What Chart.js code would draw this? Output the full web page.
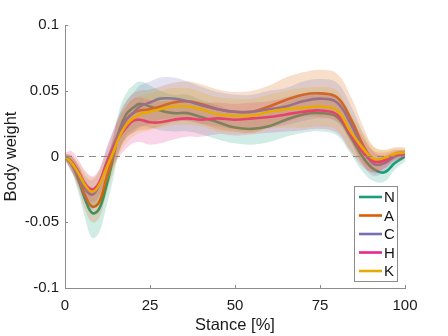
<!DOCTYPE html>
<html>
<head>
<meta charset="utf-8">
<script src="https://cdn.jsdelivr.net/npm/chart.js@4.4.0/dist/chart.umd.min.js"></script>
<style>
  html, body { margin: 0; padding: 0; background: #fff; }
  #wrap { width: 448px; height: 336px; }
</style>
</head>
<body>
<div id="wrap"><canvas id="chart" width="448" height="336"></canvas></div>
<script>
// stance samples [%]
const stance = [0, 2, 4, 6, 8, 10, 12, 14, 16, 18, 20, 22, 25, 28, 32, 36, 40, 45, 50, 55, 60, 65, 70, 75, 80, 84, 88, 91, 94, 97, 100];

// mean curves (body weight)
const meanN = [0, -0.006, -0.018, -0.033, -0.043, -0.040, -0.024, -0.003, 0.020, 0.032, 0.037, 0.040, 0.038, 0.035, 0.033, 0.033, 0.030, 0.026, 0.022, 0.021, 0.023, 0.028, 0.032, 0.033, 0.030, 0.015, -0.002, -0.010, -0.012, -0.005, 0.000];
const meanA = [0, -0.005, -0.016, -0.030, -0.038, -0.035, -0.018, 0.000, 0.018, 0.028, 0.033, 0.035, 0.036, 0.038, 0.041, 0.042, 0.040, 0.036, 0.034, 0.034, 0.038, 0.043, 0.047, 0.048, 0.045, 0.029, 0.007, -0.003, -0.002, 0.002, 0.003];
const meanC = [0, -0.006, -0.015, -0.025, -0.029, -0.022, -0.006, 0.007, 0.019, 0.028, 0.033, 0.038, 0.041, 0.044, 0.044, 0.042, 0.039, 0.036, 0.034, 0.034, 0.036, 0.038, 0.042, 0.044, 0.041, 0.025, 0.004, -0.006, -0.005, 0.000, 0.002];
const meanH = [0, -0.004, -0.012, -0.021, -0.025, -0.020, -0.007, 0.005, 0.015, 0.022, 0.027, 0.028, 0.026, 0.026, 0.028, 0.029, 0.028, 0.029, 0.028, 0.029, 0.030, 0.032, 0.034, 0.035, 0.032, 0.017, 0.002, -0.004, -0.003, 0.001, 0.002];
const meanK = [0, -0.005, -0.013, -0.022, -0.027, -0.022, -0.010, 0.002, 0.015, 0.024, 0.029, 0.032, 0.034, 0.036, 0.038, 0.038, 0.036, 0.032, 0.031, 0.031, 0.034, 0.036, 0.037, 0.038, 0.035, 0.019, 0.005, -0.002, -0.001, 0.002, 0.003];

// standard deviation bands
const sdN = [0.002, 0.006, 0.010, 0.015, 0.019, 0.018, 0.016, 0.016, 0.016, 0.016, 0.017, 0.017, 0.016, 0.015, 0.014, 0.014, 0.013, 0.013, 0.012, 0.012, 0.012, 0.013, 0.014, 0.014, 0.014, 0.013, 0.011, 0.009, 0.007, 0.005, 0.004];
const sdA = [0.002, 0.006, 0.009, 0.011, 0.012, 0.012, 0.012, 0.013, 0.014, 0.014, 0.015, 0.015, 0.015, 0.015, 0.015, 0.015, 0.015, 0.015, 0.015, 0.016, 0.016, 0.017, 0.017, 0.018, 0.018, 0.017, 0.014, 0.010, 0.007, 0.005, 0.004];
const sdC = [0.002, 0.005, 0.008, 0.010, 0.011, 0.011, 0.011, 0.012, 0.013, 0.014, 0.015, 0.016, 0.016, 0.016, 0.016, 0.015, 0.014, 0.013, 0.013, 0.013, 0.014, 0.014, 0.015, 0.015, 0.015, 0.014, 0.012, 0.009, 0.006, 0.004, 0.003];
const sdH = [0.003, 0.008, 0.009, 0.010, 0.010, 0.010, 0.011, 0.013, 0.015, 0.016, 0.017, 0.017, 0.017, 0.016, 0.015, 0.014, 0.013, 0.012, 0.012, 0.012, 0.012, 0.013, 0.014, 0.014, 0.014, 0.013, 0.011, 0.008, 0.006, 0.004, 0.003];
const sdK = [0.002, 0.005, 0.008, 0.010, 0.011, 0.011, 0.011, 0.012, 0.013, 0.014, 0.014, 0.014, 0.014, 0.014, 0.014, 0.014, 0.013, 0.013, 0.013, 0.013, 0.013, 0.014, 0.015, 0.015, 0.015, 0.014, 0.012, 0.009, 0.006, 0.004, 0.003];

const groups = ['N', 'A', 'C', 'H', 'K'];
const colors = ['#1b9e77', '#d95f02', '#7570b3', '#e7298a', '#e6ab02'];
const means = [meanN, meanA, meanC, meanH, meanK];
const sds = [sdN, sdA, sdC, sdH, sdK];

const xTicks = [0, 25, 50, 75, 100];
const yTicks = [-0.1, -0.05, 0, 0.05, 0.1];
const yTickLabels = ['-0.1', '-0.05', '0', '0.05', '0.1'];

const FONT = "'Liberation Sans', Arial, Helvetica, sans-serif";
const AXIS = '#8c8c8c';

function pts(arr) {
    return stance.map((x, i) => ({ x: x, y: arr[i] }));
}

function rgba(hex, a) {
    const n = parseInt(hex.slice(1), 16);
    return 'rgba(' + (n >> 16) + ',' + ((n >> 8) & 255) + ',' + (n & 255) + ',' + a + ')';
}

const datasets = [];
// each group: mean line, then its band on top (later groups above earlier ones)
groups.forEach((g, k) => {
    const base = 100 - k * 3;
    datasets.push({
        label: g + ' lo',
        data: pts(means[k].map((m, i) => m - sds[k][i])),
        borderColor: 'transparent', borderWidth: 1, pointRadius: 0, fill: false,
        tension: 0.4, order: base - 1
    });
    datasets.push({
        label: g + ' hi',
        data: pts(means[k].map((m, i) => m + sds[k][i])),
        borderColor: 'transparent', borderWidth: 1, pointRadius: 0,
        backgroundColor: rgba(colors[k], 0.2), fill: '-1',
        tension: 0.4, order: base - 1
    });
    datasets.push({
        label: g,
        data: pts(means[k]),
        borderColor: colors[k], borderWidth: 2.6, pointRadius: 0, fill: false,
        tension: 0.4, order: base
    });
});
// zero reference
datasets.push({
    label: 'zero',
    data: [{ x: 0, y: 0 }, { x: 100, y: 0 }],
    borderColor: '#8a8a8a', borderWidth: 1, borderDash: [7, 5],
    pointRadius: 0, fill: false, order: 0
});

// inward tick marks
const innerTicks = {
    id: 'innerTicks',
    afterDraw(chart) {
        const ctx = chart.ctx, xs = chart.scales.x, ys = chart.scales.y;
        const a = chart.chartArea;
        ctx.save();
        ctx.strokeStyle = AXIS;
        ctx.lineWidth = 1;
        ctx.beginPath();
        xTicks.forEach(v => {
            const px = Math.round(xs.getPixelForValue(v)) + 0.5;
            ctx.moveTo(px, a.bottom); ctx.lineTo(px, a.bottom - 3);
        });
        yTicks.forEach(v => {
            const py = Math.round(ys.getPixelForValue(v)) + 0.5;
            ctx.moveTo(a.left, py); ctx.lineTo(a.left + 3, py);
        });
        ctx.stroke();
        ctx.restore();
    }
};

// legend box inside the plot
const boxLegend = {
    id: 'boxLegend',
    afterDraw(chart) {
        const ctx = chart.ctx;
        const bx = 354.5, by = 186.5, bw = 43, bh = 95;
        ctx.save();
        ctx.fillStyle = '#fff';
        ctx.fillRect(bx, by, bw, bh);
        ctx.strokeStyle = AXIS;
        ctx.lineWidth = 1;
        ctx.strokeRect(bx, by, bw, bh);
        ctx.font = '15px ' + FONT;
        ctx.textBaseline = 'middle';
        ctx.textAlign = 'left';
        groups.forEach((g, k) => {
            const y = 197 + k * 18.5;
            ctx.strokeStyle = colors[k];
            ctx.lineWidth = 2.6;
            ctx.beginPath();
            ctx.moveTo(359, y); ctx.lineTo(382, y);
            ctx.stroke();
            ctx.fillStyle = '#111';
            ctx.fillText(g, 384, y + 1);
        });
        ctx.restore();
    }
};

new Chart(document.getElementById('chart'), {
    type: 'line',
    data: { datasets: datasets },
    options: {
        responsive: false,
        animation: false,
        layout: { padding: { top: 25, right: 43, left: 0, bottom: 0 } },
        plugins: {
            legend: { display: false },
            tooltip: { enabled: false }
        },
        scales: {
            x: {
                type: 'linear', min: 0, max: 100,
                afterBuildTicks: s => { s.ticks = xTicks.map(v => ({ value: v })); },
                afterFit: s => { s.height = 48; },
                grid: { display: true, drawOnChartArea: false, drawTicks: false },
                border: { display: true, color: AXIS, width: 1 },
                ticks: { padding: 9, color: '#1a1a1a', font: { family: FONT, size: 15 }, maxRotation: 0 },
                title: { display: true, text: 'Stance [%]', color: '#1a1a1a', font: { family: FONT, size: 16.5 }, padding: { top: 0, bottom: 1 } }
            },
            y: {
                type: 'linear', min: -0.1, max: 0.1,
                afterBuildTicks: s => { s.ticks = yTicks.map(v => ({ value: v })); },
                afterFit: s => { s.width = 65; },
                grid: { display: true, drawOnChartArea: false, drawTicks: false },
                border: { display: true, color: AXIS, width: 1 },
                ticks: {
                    padding: 6, color: '#1a1a1a', font: { family: FONT, size: 15 },
                    callback: v => {
                        const i = yTicks.findIndex(t => Math.abs(t - v) < 1e-9);
                        return i >= 0 ? yTickLabels[i] : '';
                    }
                },
                title: { display: true, text: 'Body weight', color: '#1a1a1a', font: { family: FONT, size: 16.5 }, padding: { top: 2, bottom: 0 } }
            }
        }
    },
    plugins: [innerTicks, boxLegend]
});
</script>
</body>
</html>
